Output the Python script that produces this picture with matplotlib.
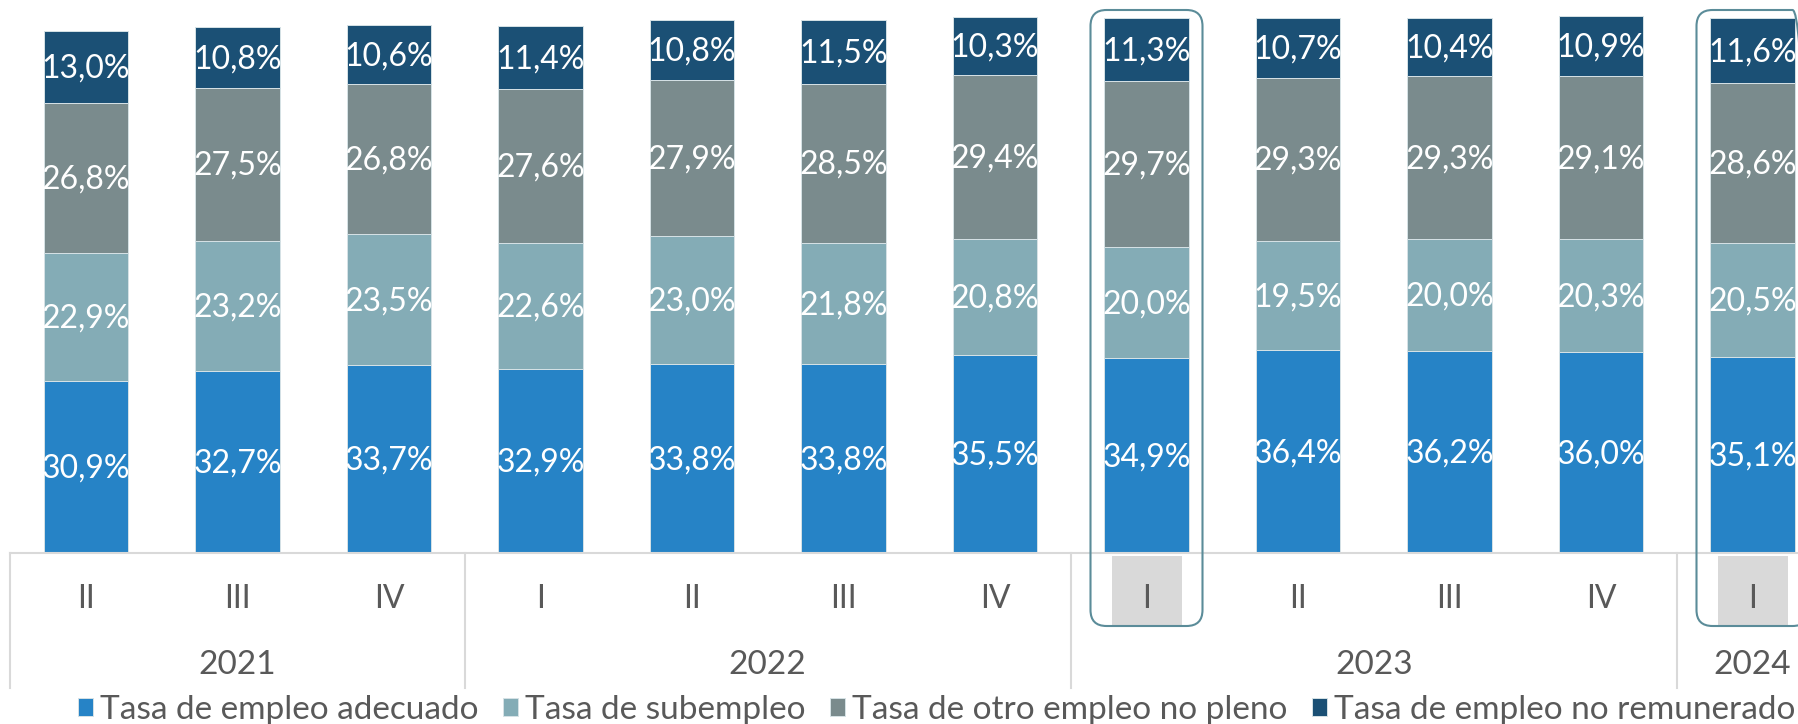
import numpy as np
import matplotlib.pyplot as plt
from matplotlib.patches import FancyBboxPatch, Rectangle
from matplotlib.transforms import IdentityTransform

plt.rcParams['font.family'] = ['Lato', 'DejaVu Sans']

quarters = ['II', 'III', 'IV', 'I', 'II', 'III', 'IV', 'I', 'II', 'III', 'IV', 'I']
years = ['2021', '2022', '2023', '2024']
year_span = [3, 4, 4, 1]

adecuado = [30.9, 32.7, 33.7, 32.9, 33.8, 33.8, 35.5, 34.9, 36.4, 36.2, 36.0, 35.1]
subempleo = [22.9, 23.2, 23.5, 22.6, 23.0, 21.8, 20.8, 20.0, 19.5, 20.0, 20.3, 20.5]
otro_no_pleno = [26.8, 27.5, 26.8, 27.6, 27.9, 28.5, 29.4, 29.7, 29.3, 29.3, 29.1, 28.6]
no_remunerado = [13.0, 10.8, 10.6, 11.4, 10.8, 11.5, 10.3, 11.3, 10.7, 10.4, 10.9, 11.6]

names = ['Tasa de empleo adecuado', 'Tasa de subempleo',
         'Tasa de otro empleo no pleno', 'Tasa de empleo no remunerado']
colors = ['#2683c6', '#84acb6', '#7a8b8d', '#1b5075']
highlight = [7, 11]

W, H = 1798, 724
fig = plt.figure(figsize=(W / 100, H / 100), dpi=100)
left_px, step_px, base_px = 10.25, 151.5, 553
ax = fig.add_axes([left_px / W, (H - base_px) / H, 1 - left_px / W, base_px / H])

x = np.arange(len(quarters))
bottom = np.zeros(len(quarters))
handles = []
for vals, col, name in zip([adecuado, subempleo, otro_no_pleno, no_remunerado], colors, names):
    vals = np.array(vals)
    b = ax.bar(x, vals, width=0.555, bottom=bottom, color=col, edgecolor='#d6e2e6',
               linewidth=0.7, label=name, zorder=2)
    handles.append(b)
    for xi, v, bt in zip(x, vals, bottom):
        ax.text(xi, bt + v / 2 - 0.3, f'{v:.1f}%'.replace('.', ','), ha='center', va='center',
                color='white', fontsize=23, zorder=3)
    bottom += vals

ax.set_xlim(-0.5, -0.5 + (W - left_px) / step_px)
ax.set_ylim(0, 99.1)
ax.set_xticks([])
ax.set_yticks([])
for s in ['top', 'left', 'right']:
    ax.spines[s].set_visible(False)
ax.spines['bottom'].set_color('#d9d9d9')
ax.spines['bottom'].set_linewidth(1.5)

trans = ax.get_xaxis_transform()
for xi, q in zip(x, quarters):
    ax.text(xi, -46 / base_px, q, transform=trans, ha='center', va='center',
            fontsize=23, color='#595959', clip_on=False)

start = 0
for yr, n in zip(years, year_span):
    ax.plot([start - 0.5, start - 0.5], [0, -135 / base_px], transform=trans,
            color='#d9d9d9', lw=1.5, clip_on=False)
    ax.text(start + (n - 1) / 2, -112 / base_px, yr, transform=trans, ha='center',
            va='center', fontsize=24, color='#595959', clip_on=False)
    start += n

# highlighted quarters
for idx in highlight:
    cx = ax.transData.transform((idx, 0))[0]
    gray = Rectangle((cx - 35, 98), 70, 70, transform=IdentityTransform(),
                     facecolor='#d9d9d9', edgecolor='none', zorder=-1)
    fig.add_artist(gray)
    box = FancyBboxPatch((cx - 56, 98), 112, 616, boxstyle='round,pad=0,rounding_size=16',
                         transform=IdentityTransform(), fill=False,
                         edgecolor='#5b8c99', lw=1.5, zorder=5)
    fig.add_artist(box)

fig.legend(handles=handles, labels=names, loc='center left', bbox_to_anchor=(78 / W, 14 / H),
           ncol=4, frameon=False, fontsize=24, handlelength=0.45, handleheight=0.45,
           handletextpad=0.2, columnspacing=0.75, labelcolor='#595959',
           borderpad=0, borderaxespad=0)

fig.savefig('out.png', dpi=100)
